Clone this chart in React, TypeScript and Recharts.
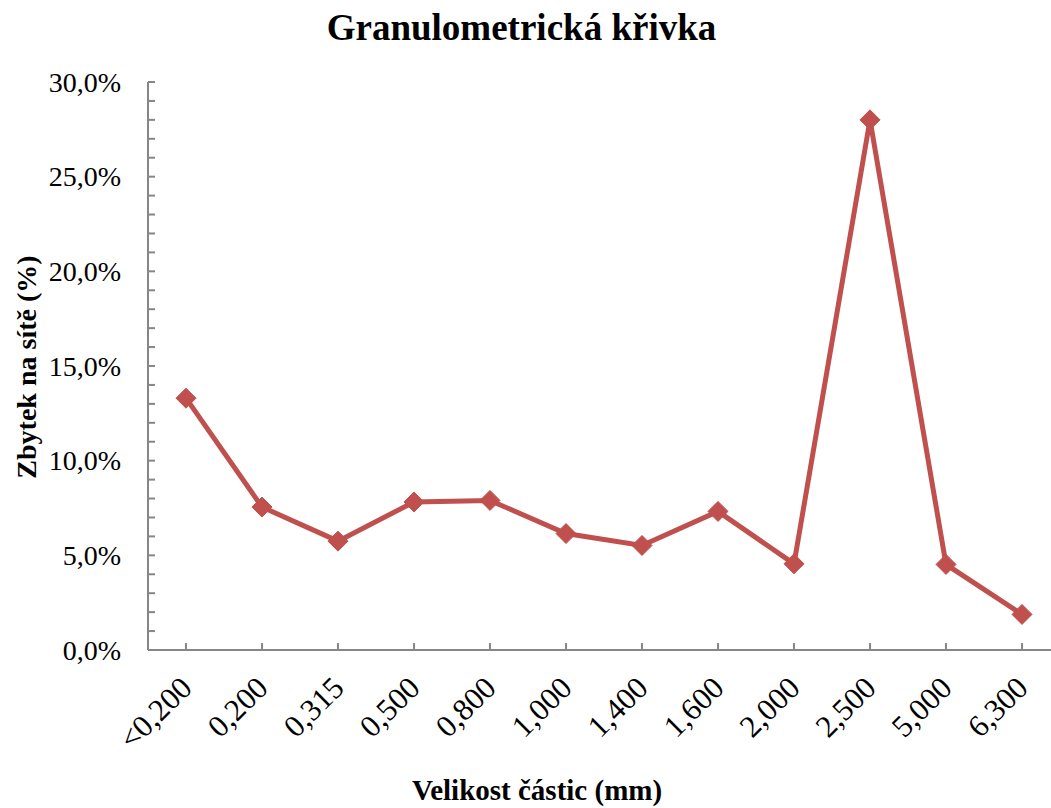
import { LineChart, Line, XAxis, YAxis } from 'recharts'

const SIZES = ['<0,200', '0,200', '0,315', '0,500', '0,800', '1,000', '1,400', '1,600', '2,000', '2,500', '5,000', '6,300']
const RESIDUE = [13.3, 7.55, 5.75, 7.82, 7.9, 6.15, 5.52, 7.32, 4.55, 28.0, 4.52, 1.88]
const Y_TICKS = Array.from({ length: 31 }, (_, i) => i)

const RED = '#C0504D'
const AXIS = '#868686'
const FONT = '"Liberation Serif", "Times New Roman", serif'

const data = SIZES.map((size, i) => ({ size, value: RESIDUE[i] }))

function Diamond(props: any) {
  const { cx, cy } = props
  if (cx == null || cy == null) return null
  const r = 10
  return (
    <polygon
      points={`${cx},${cy - r} ${cx + r},${cy} ${cx},${cy + r} ${cx - r},${cy}`}
      fill={RED}
      stroke={RED}
      strokeWidth={1}
    />
  )
}

function YTick(props: any) {
  const { x, y, payload } = props
  if (payload.value % 5 !== 0) return null
  return (
    <text x={x} y={y} dy="0.35em" textAnchor="end" fontFamily={FONT} fontSize={28} fill="#000">
      {payload.value.toFixed(1).replace('.', ',') + '%'}
    </text>
  )
}

function XTick(props: any) {
  const { x, y, payload } = props
  return (
    <text
      x={x}
      y={y}
      dy="0.35em"
      textAnchor="end"
      transform={`rotate(-45, ${x}, ${y})`}
      fontFamily={FONT}
      fontSize={31}
      fill="#000"
    >
      {payload.value}
    </text>
  )
}

export default function App() {
  return (
    <div
      style={{
        position: 'absolute',
        left: 0,
        top: 0,
        width: 1051,
        height: 808,
        overflow: 'hidden',
        background: '#fff',
        fontFamily: FONT,
      }}
    >
      <div
        style={{
          position: 'absolute',
          left: 0,
          width: 1043,
          top: 6,
          textAlign: 'center',
          fontWeight: 'bold',
          fontSize: 37,
          lineHeight: '44px',
        }}
      >
        Granulometrická křivka
      </div>
      <div
        style={{
          position: 'absolute',
          left: 27 - 200,
          top: 367 - 16,
          width: 400,
          height: 32,
          lineHeight: '32px',
          textAlign: 'center',
          fontWeight: 'bold',
          fontSize: 28,
          transform: 'rotate(-90deg)',
        }}
      >
        Zbytek na sítě (%)
      </div>
      <div
        style={{
          position: 'absolute',
          left: 537 - 200,
          top: 773,
          width: 400,
          lineHeight: '34px',
          textAlign: 'center',
          fontWeight: 'bold',
          fontSize: 29,
        }}
      >
        Velikost částic (mm)
      </div>
      <div style={{ position: 'absolute', left: 0, top: 0 }}>
        <LineChart width={1060} height={808} data={data} margin={{ top: 82, right: 0, bottom: 0, left: 0 }}>
          <XAxis
            dataKey="size"
            interval={0}
            height={158}
            padding={{ left: 38, right: 38 }}
            axisLine={{ stroke: AXIS, strokeWidth: 2 }}
            tickLine={{ stroke: AXIS, strokeWidth: 2 }}
            tickSize={-7}
            tickMargin={39}
            tick={<XTick />}
          />
          <YAxis
            width={148}
            domain={[0, 30]}
            ticks={Y_TICKS}
            interval={0}
            axisLine={{ stroke: AXIS, strokeWidth: 2 }}
            tickLine={{ stroke: AXIS, strokeWidth: 2 }}
            tickSize={-7}
            tickMargin={34}
            tick={<YTick />}
          />
          <Line
            type="linear"
            dataKey="value"
            stroke={RED}
            strokeWidth={5}
            dot={<Diamond />}
            activeDot={false}
            isAnimationActive={false}
          />
        </LineChart>
      </div>
    </div>
  )
}
